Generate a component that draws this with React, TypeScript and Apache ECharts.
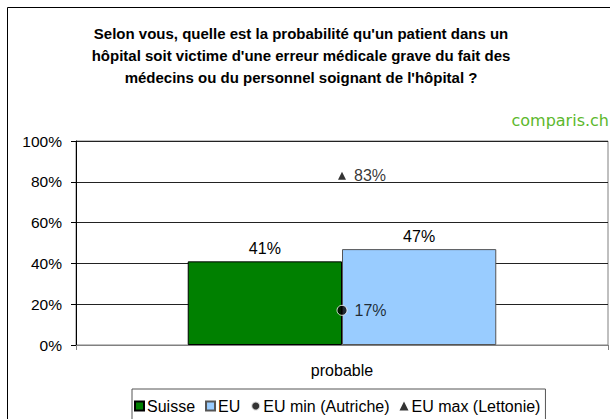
import React, { useEffect, useRef } from "react";
import * as echarts from "echarts";

const titleLines = [
  "Selon vous, quelle est la probabilité qu'un patient dans un",
  "hôpital soit victime d'une erreur médicale grave du fait des",
  "médecins ou du personnel soignant de l'hôpital ?",
];
const categories = ["probable"];
const suisse = [41];
const eu = [47];
const euMin = [17];
const euMax = [83];
const yTicks = [0, 20, 40, 60, 80, 100];

export default function App() {
  const ref = useRef<HTMLDivElement>(null);
  useEffect(() => {
    if (!ref.current) return;
    const chart = echarts.init(ref.current, null, { renderer: "svg" });
    const font = "'Liberation Sans', Arial, sans-serif";
    const lbl = (pos: string, dist: number) => ({
      show: true,
      position: pos,
      distance: dist,
      formatter: "{c}%",
      fontSize: 16,
      color: "#000",
      fontFamily: font,
    });
    chart.setOption({
      animation: false,
      textStyle: { fontFamily: font },
      grid: {
        left: 76,
        right: 2,
        top: 141,
        bottom: 74,
        show: true,
        borderColor: "#808080",
        borderWidth: 1,
      },
      graphic: [
        {
          type: "rect",
          shape: { x: 7.5, y: 7.5, width: 700, height: 500 },
          style: { fill: "none", stroke: "#000", lineWidth: 1 },
          silent: true,
          z: -1,
        },
        {
          type: "text",
          x: 301,
          y: 22,
          style: {
            text: titleLines.join("\n"),
            fontFamily: font,
            fontSize: 15,
            fontWeight: "bold",
            lineHeight: 22,
            fill: "#000",
            textAlign: "center",
            textVerticalAlign: "top",
          },
        },
        {
          type: "text",
          x: 609,
          y: 120,
          style: {
            text: "comparis.ch",
            fontFamily: "'DejaVu Sans', sans-serif",
            fontSize: 16,
            fill: "#5cb82c",
            textAlign: "right",
            textVerticalAlign: "middle",
          },
        },
      ],
      legend: {
        left: 132,
        top: 389,
        itemWidth: 9,
        itemHeight: 9,
        itemGap: 10,
        padding: [9, 5, 14, 2],
        borderColor: "#555",
        borderWidth: 1,
        textStyle: { fontSize: 16, color: "#000", fontFamily: font, padding: [0, 0, 0, -2] },
        data: [
          { name: "Suisse", icon: "rect" },
          { name: "EU", icon: "rect" },
          { name: "EU min (Autriche)", icon: "circle" },
          { name: "EU max (Lettonie)", icon: "triangle" },
        ],
      },
      xAxis: {
        type: "category",
        data: categories,
        axisLine: { lineStyle: { color: "#808080", width: 1 } },
        axisTick: { show: true, length: 5, lineStyle: { color: "#808080" } },
        axisLabel: { fontSize: 16, color: "#000", margin: 17, fontFamily: font },
      },
      yAxis: {
        type: "value",
        min: yTicks[0],
        max: yTicks[yTicks.length - 1],
        interval: 20,
        axisLine: { show: true, lineStyle: { color: "#000", width: 1 } },
        axisTick: { show: true, length: 5, inside: false, lineStyle: { color: "#000" } },
        axisLabel: {
          fontSize: 15.5,
          color: "#000",
          margin: 14,
          fontFamily: font,
          formatter: "{value}%",
        },
        splitLine: { show: true, lineStyle: { color: "#222", width: 1 } },
      },
      series: [
        {
          name: "Suisse",
          type: "bar",
          data: suisse,
          barGap: "0%",
          barCategoryGap: "42%",
          itemStyle: { color: "#008000", borderColor: "#000", borderWidth: 1 },
          label: lbl("top", 5),
        },
        {
          name: "EU",
          type: "bar",
          data: eu,
          itemStyle: { color: "#99ccff", borderColor: "#555", borderWidth: 1 },
          label: lbl("top", 5),
        },
        {
          name: "EU min (Autriche)",
          type: "scatter",
          data: euMin,
          symbol: "circle",
          symbolSize: 10,
          itemStyle: { color: "#000", borderColor: "#fff", borderWidth: 1 },
          z: 5,
          label: lbl("right", 7),
        },
        {
          name: "EU max (Lettonie)",
          type: "scatter",
          data: euMax,
          symbol: "triangle",
          symbolSize: 8,
          itemStyle: { color: "#000" },
          z: 5,
          label: lbl("right", 8),
        },
      ],
    });
    return () => chart.dispose();
  }, []);
  return <div ref={ref} style={{ width: 610, height: 419, position: "absolute", left: 0, top: 0, background: "#fff" }} />;
}
